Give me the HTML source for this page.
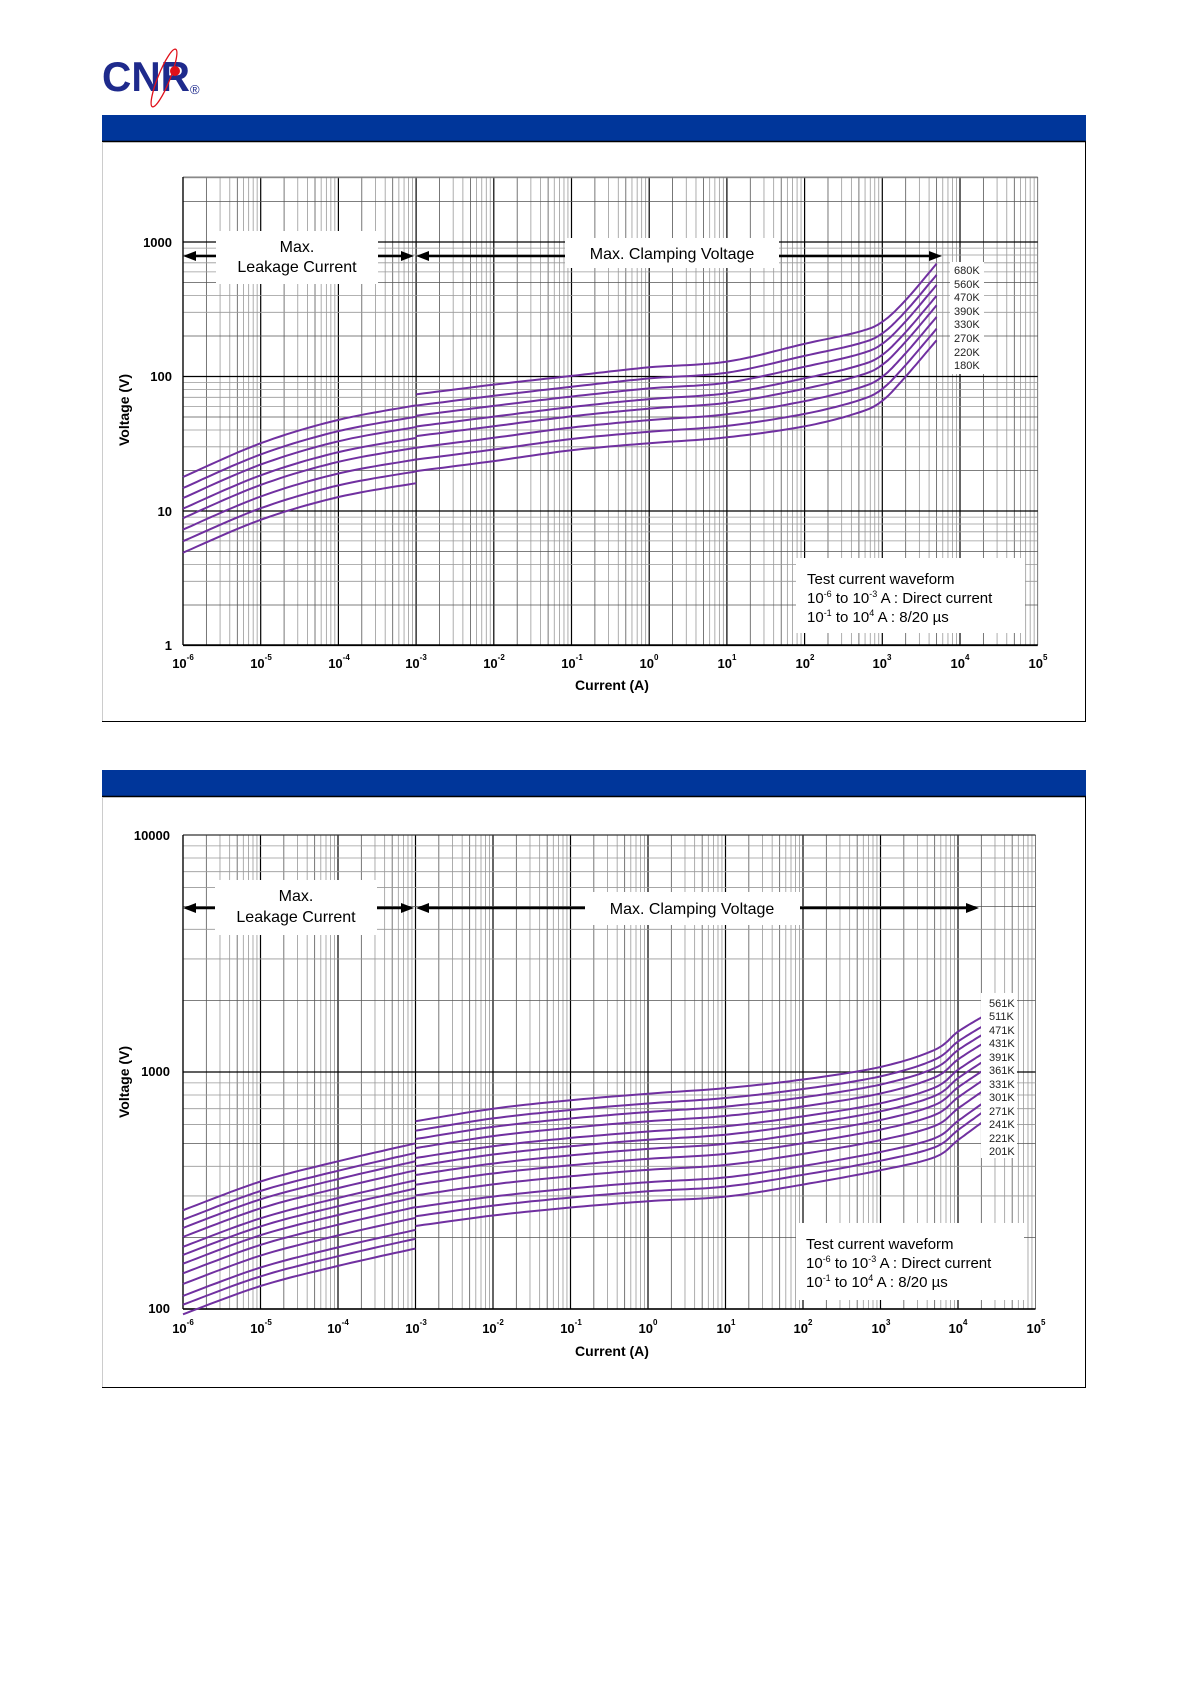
<!DOCTYPE html>
<html><head><meta charset="utf-8">
<style>
html,body{margin:0;padding:0;background:#fff;}
svg{display:block;}
text{font-family:"Liberation Sans",Arial,sans-serif;}
</style></head>
<body>
<svg id="s" xmlns="http://www.w3.org/2000/svg" width="1191" height="1684" viewBox="0 0 1191 1684">
<rect width="1191" height="1684" fill="#fff"/>
<!-- logo -->
<text x="102" y="91" font-size="42" font-weight="bold" fill="#1e2a8c" textLength="88" lengthAdjust="spacingAndGlyphs">CNR</text>
<ellipse cx="164" cy="78" rx="6" ry="31" transform="rotate(22 164 78)" fill="none" stroke="#e0101a" stroke-width="1.3"/>
<circle cx="175" cy="71" r="5" fill="#e0101a"/>
<text x="190" y="94" font-size="13" fill="#1e2a8c">®</text>

<!-- panel 1 -->
<rect x="102" y="115" width="984" height="26" fill="#00369a"/>
<line x1="102" y1="141.5" x2="1086" y2="141.5" stroke="#000" stroke-width="1.5"/>
<line x1="102.5" y1="142" x2="102.5" y2="722" stroke="#ccc"/>
<line x1="1085.5" y1="142" x2="1085.5" y2="722" stroke="#000"/>
<line x1="102" y1="721.5" x2="1086" y2="721.5" stroke="#000"/>
<g id="g1"></g>

<!-- panel 2 -->
<rect x="102" y="770" width="984" height="26" fill="#00369a"/>
<line x1="102" y1="796.5" x2="1086" y2="796.5" stroke="#000" stroke-width="1.5"/>
<line x1="102.5" y1="797" x2="102.5" y2="1388" stroke="#ccc"/>
<line x1="1085.5" y1="797" x2="1085.5" y2="1388" stroke="#000"/>
<line x1="102" y1="1387.5" x2="1086" y2="1387.5" stroke="#000"/>
<g id="g2"></g>

<!-- chart 1 annotations -->
<g id="a1">
<line x1="188" y1="256" x2="409" y2="256" stroke="#000" stroke-width="2.5"/>
<polygon points="183,256 196,251 196,261" fill="#000"/>
<polygon points="414,256 401,251 401,261" fill="#000"/>
<line x1="420" y1="256" x2="936" y2="256" stroke="#000" stroke-width="2.5"/>
<polygon points="416,256 429,251 429,261" fill="#000"/>
<polygon points="942,256 929,251 929,261" fill="#000"/>
<rect x="216" y="231" width="162" height="53" fill="#fff"/>
<text x="297" y="252" font-size="16" text-anchor="middle">Max.</text>
<text x="297" y="272" font-size="16" text-anchor="middle">Leakage Current</text>
<rect x="565" y="238" width="214" height="30" fill="#fff"/>
<text x="672" y="259" font-size="16" text-anchor="middle">Max. Clamping Voltage</text>
<rect x="950" y="262" width="34" height="112" fill="#fff"/>
<g font-size="11" fill="#222">
<text x="954" y="274">680K</text><text x="954" y="288">560K</text><text x="954" y="301">470K</text><text x="954" y="315">390K</text>
<text x="954" y="328">330K</text><text x="954" y="342">270K</text><text x="954" y="356">220K</text><text x="954" y="369">180K</text>
</g>
<rect x="796" y="558" width="229" height="75" fill="#fff"/>
<text x="807" y="584" font-size="15">Test current waveform</text>
<text x="807" y="603" font-size="15">10<tspan font-size="9" dy="-6">-6</tspan><tspan dy="6">  to 10</tspan><tspan font-size="9" dy="-6">-3</tspan><tspan dy="6"> A : Direct current</tspan></text>
<text x="807" y="622" font-size="15">10<tspan font-size="9" dy="-6">-1</tspan><tspan dy="6">  to 10</tspan><tspan font-size="9" dy="-6">4</tspan><tspan dy="6">  A : 8/20 µs</tspan></text>
<g font-size="13" font-weight="bold" text-anchor="end">
<text x="172" y="247">1000</text><text x="172" y="381">100</text><text x="172" y="516">10</text><text x="172" y="650">1</text>
</g>
<text transform="translate(129,410) rotate(-90)" font-size="14" font-weight="bold" text-anchor="middle">Voltage  (V)</text>
<text x="612" y="690" font-size="14" font-weight="bold" text-anchor="middle">Current (A)</text>
<g font-size="13" font-weight="bold" text-anchor="middle">
<text x="183" y="668">10<tspan font-size="8" dy="-8">-6</tspan></text>
<text x="261" y="668">10<tspan font-size="8" dy="-8">-5</tspan></text>
<text x="339" y="668">10<tspan font-size="8" dy="-8">-4</tspan></text>
<text x="416" y="668">10<tspan font-size="8" dy="-8">-3</tspan></text>
<text x="494" y="668">10<tspan font-size="8" dy="-8">-2</tspan></text>
<text x="572" y="668">10<tspan font-size="8" dy="-8">-1</tspan></text>
<text x="649" y="668">10<tspan font-size="8" dy="-8">0</tspan></text>
<text x="727" y="668">10<tspan font-size="8" dy="-8">1</tspan></text>
<text x="805" y="668">10<tspan font-size="8" dy="-8">2</tspan></text>
<text x="882" y="668">10<tspan font-size="8" dy="-8">3</tspan></text>
<text x="960" y="668">10<tspan font-size="8" dy="-8">4</tspan></text>
<text x="1038" y="668">10<tspan font-size="8" dy="-8">5</tspan></text>
</g>
</g>

<!-- chart 2 annotations -->
<g id="a2">
<line x1="188" y1="908" x2="409" y2="908" stroke="#000" stroke-width="2.5"/>
<polygon points="183,908 196,903 196,913" fill="#000"/>
<polygon points="414,908 401,903 401,913" fill="#000"/>
<line x1="420" y1="908" x2="972" y2="908" stroke="#000" stroke-width="2.5"/>
<polygon points="416,908 429,903 429,913" fill="#000"/>
<polygon points="979,908 966,903 966,913" fill="#000"/>
<rect x="215" y="880" width="162" height="55" fill="#fff"/>
<text x="296" y="901" font-size="16" text-anchor="middle">Max.</text>
<text x="296" y="922" font-size="16" text-anchor="middle">Leakage Current</text>
<rect x="585" y="892" width="215" height="33" fill="#fff"/>
<text x="692" y="914" font-size="16" text-anchor="middle">Max. Clamping Voltage</text>
<rect x="981" y="993" width="36" height="165" fill="#fff"/>
<g font-size="11" fill="#222">
<text x="989" y="1007">561K</text><text x="989" y="1020">511K</text><text x="989" y="1034">471K</text><text x="989" y="1047">431K</text>
<text x="989" y="1061">391K</text><text x="989" y="1074">361K</text><text x="989" y="1088">331K</text><text x="989" y="1101">301K</text>
<text x="989" y="1115">271K</text><text x="989" y="1128">241K</text><text x="989" y="1142">221K</text><text x="989" y="1155">201K</text>
</g>
<rect x="796" y="1223" width="228" height="77" fill="#fff"/>
<text x="806" y="1249" font-size="15">Test current waveform</text>
<text x="806" y="1268" font-size="15">10<tspan font-size="9" dy="-6">-6</tspan><tspan dy="6">  to 10</tspan><tspan font-size="9" dy="-6">-3</tspan><tspan dy="6"> A : Direct current</tspan></text>
<text x="806" y="1287" font-size="15">10<tspan font-size="9" dy="-6">-1</tspan><tspan dy="6">  to 10</tspan><tspan font-size="9" dy="-6">4</tspan><tspan dy="6">  A : 8/20 µs</tspan></text>
<g font-size="13" font-weight="bold" text-anchor="end">
<text x="170" y="840">10000</text><text x="170" y="1076">1000</text><text x="170" y="1313">100</text>
</g>
<text transform="translate(129,1082) rotate(-90)" font-size="14" font-weight="bold" text-anchor="middle">Voltage  (V)</text>
<text x="612" y="1356" font-size="14" font-weight="bold" text-anchor="middle">Current (A)</text>
<g font-size="13" font-weight="bold" text-anchor="middle">
<text x="183" y="1333">10<tspan font-size="8" dy="-8">-6</tspan></text>
<text x="261" y="1333">10<tspan font-size="8" dy="-8">-5</tspan></text>
<text x="338" y="1333">10<tspan font-size="8" dy="-8">-4</tspan></text>
<text x="416" y="1333">10<tspan font-size="8" dy="-8">-3</tspan></text>
<text x="493" y="1333">10<tspan font-size="8" dy="-8">-2</tspan></text>
<text x="571" y="1333">10<tspan font-size="8" dy="-8">-1</tspan></text>
<text x="648" y="1333">10<tspan font-size="8" dy="-8">0</tspan></text>
<text x="726" y="1333">10<tspan font-size="8" dy="-8">1</tspan></text>
<text x="803" y="1333">10<tspan font-size="8" dy="-8">2</tspan></text>
<text x="881" y="1333">10<tspan font-size="8" dy="-8">3</tspan></text>
<text x="958" y="1333">10<tspan font-size="8" dy="-8">4</tspan></text>
<text x="1036" y="1333">10<tspan font-size="8" dy="-8">5</tspan></text>
</g>
</g>
</svg>
<script>
(function(){
var NS="http://www.w3.org/2000/svg";
function el(p,t,a){var e=document.createElementNS(NS,t);for(var k in a)e.setAttribute(k,a[k]);p.appendChild(e);return e;}
function chart(g,cfg,before){
  var X=function(lx){return cfg.x0+(lx+6)*cfg.dx;};
  var Y=function(ly){return cfg.yRef-(ly-cfg.lRef)*cfg.dy;};
  var grid=document.createElementNS(NS,"g");g.appendChild(grid);
  for(var d=-6;d<5;d++){for(var m=1;m<10;m++){var x=X(d+Math.log10(m));
    el(grid,"line",{x1:x,y1:cfg.top,x2:x,y2:cfg.bot,stroke:m==1?"#000":(m==2||m==5?"#555":"#999"),"stroke-width":m==1?1.2:0.8});}}
  el(grid,"line",{x1:X(5),y1:cfg.top,x2:X(5),y2:cfg.bot,stroke:"#555","stroke-width":0.8});
  for(var d=cfg.ymin;d<=cfg.ymax;d++){for(var m=1;m<10;m++){var y=Y(d+Math.log10(m));
    if(y<cfg.top-0.5||y>cfg.bot+0.5)continue;
    el(grid,"line",{x1:cfg.x0,y1:y,x2:X(5),y2:y,stroke:m==1?"#000":(m==2||m==5?"#555":"#999"),"stroke-width":m==1?1.2:0.8});}}
  el(grid,"line",{x1:cfg.x0,y1:cfg.top,x2:X(5),y2:cfg.top,stroke:"#555","stroke-width":0.8});
  el(grid,"line",{x1:cfg.x0,y1:cfg.bot,x2:X(5),y2:cfg.bot,stroke:"#000","stroke-width":1.5});
  el(grid,"line",{x1:cfg.x0,y1:cfg.top,x2:cfg.x0,y2:cfg.bot,stroke:"#000","stroke-width":1.2});
  var cg=document.createElementNS(NS,"g");g.appendChild(cg);
  var lb=Math.log10(cfg.V[0]),lt=Math.log10(cfg.V[cfg.V.length-1]);
  cfg.V.forEach(function(v){
    var f=(Math.log10(v)-lb)/(lt-lb);
    cfg.segs.forEach(function(s){
      var pts=s.x.map(function(x,i){return [Math.log10(x),(1-f)*Math.log10(s.b[i])+f*Math.log10(s.t[i])];});
      var d="";
      for(var i=0;i<pts.length-1;i++){
        var p0=pts[Math.max(0,i-1)],p1=pts[i],p2=pts[i+1],p3=pts[Math.min(pts.length-1,i+2)];
        for(var k=0;k<=12;k++){var t=k/12,t2=t*t,t3=t2*t;
          var xx=0.5*((2*p1[0])+(-p0[0]+p2[0])*t+(2*p0[0]-5*p1[0]+4*p2[0]-p3[0])*t2+(-p0[0]+3*p1[0]-3*p2[0]+p3[0])*t3);
          var yy=0.5*((2*p1[1])+(-p0[1]+p2[1])*t+(2*p0[1]-5*p1[1]+4*p2[1]-p3[1])*t2+(-p0[1]+3*p1[1]-3*p2[1]+p3[1])*t3);
          d+=(d?"L":"M")+X(xx).toFixed(1)+","+Y(yy).toFixed(1);}
      }
      el(cg,"path",{d:d,fill:"none",stroke:"#7030a0","stroke-width":2});
    });
  });
  g.parentNode.insertBefore(g,before);
}
chart(document.getElementById("g1"),{x0:183,dx:77.7,yRef:511,lRef:1,dy:134.5,top:177,bot:645,ymin:0,ymax:3,
  V:[180,220,270,330,390,470,560,680],
  segs:[{x:[1e-6,1e-5,1e-4,1e-3],b:[4.9,8.6,12.7,16.1],t:[17.9,31.9,47.6,61]},
        {x:[1e-3,1e-2,1e-1,1,10,100,500,1000,2000,5000],b:[19.8,23.5,28.3,31.9,35.3,42.6,54,66,100,186],t:[73.6,87,101,117,129,175,215,255,370,690]}]},
  document.getElementById("a1"));
chart(document.getElementById("g2"),{x0:183,dx:77.5,yRef:1072,lRef:3,dy:237,top:835,bot:1309,ymin:2,ymax:4,
  V:[200,220,240,270,300,330,360,390,430,470,510,560],
  segs:[{x:[1e-6,1e-5,1e-4,1e-3],b:[95,125,152,180],t:[261,345,420,500]},
        {x:[1e-3,1e-2,1e-1,1,10,100,1000,5000,1e4,2e4],b:[224,248,268,285,298,335,385,437,516,610],t:[620,700,760,810,855,930,1050,1240,1480,1700]}]},
  document.getElementById("a2"));
})();
</script>
</body></html>
